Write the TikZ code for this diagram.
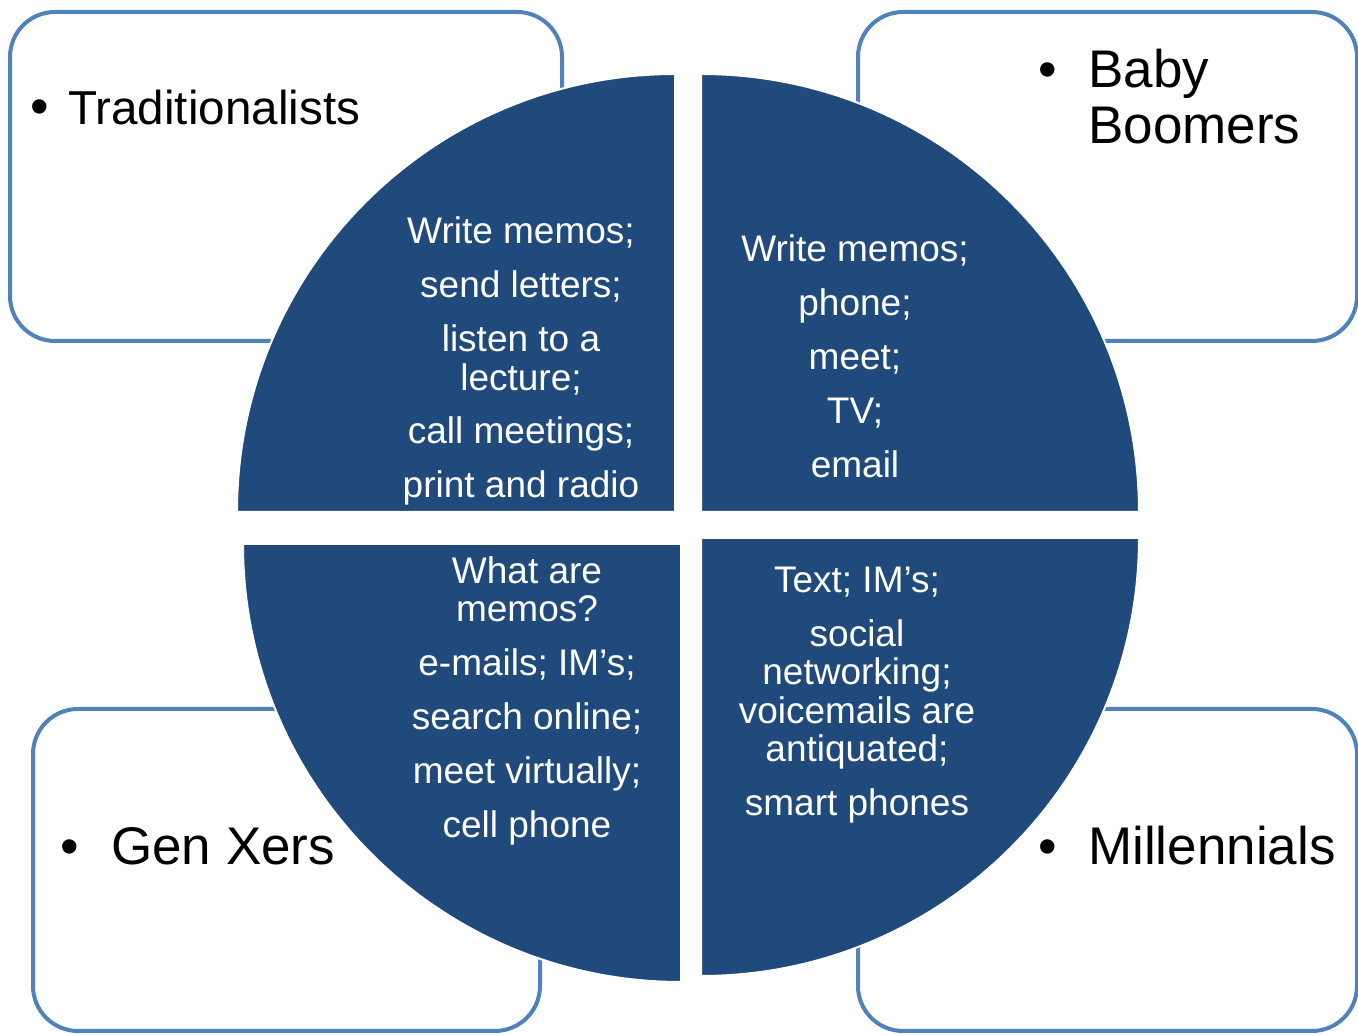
\documentclass[tikz,border=0pt]{standalone}
\usepackage{fontspec}
\setmainfont{Liberation Sans}
\definecolor{boxline}{RGB}{79,129,189}
\definecolor{piefill}{RGB}{33,74,124}
\begin{document}
\begin{tikzpicture}[x=1pt,y=1pt,
  genbox/.style={draw=boxline, line width=4pt, fill=white, rounded corners=45pt},
  quarter/.style={fill=piefill, draw=white, line width=2pt},
  gentext/.style={anchor=base west, inner sep=0pt, align=left, font=\fontsize{53}{56}\selectfont},
  bul/.style={anchor=base, inner sep=0pt, font=\fontsize{53}{56}\selectfont},
  pietext/.style={anchor=north, inner sep=0pt, align=center, text=white, font=\fontsize{37}{38.5}\selectfont}
]
\useasboundingbox (0,0) rectangle (1358,1035);

% generation boxes
\draw[genbox] (10,1023) rectangle (562,694);
\draw[genbox] (858,1023) rectangle (1357,694);
\draw[genbox] (33,326) rectangle (540,4);
\draw[genbox] (858,326) rectangle (1357,4);

% four quarters of the circle
\draw[quarter] (675,523) -- (237,523) arc[start angle=180, end angle=90, radius=438] -- cycle;
\draw[quarter] (701,523) -- (701,961) arc[start angle=90, end angle=0, radius=438] -- cycle;
\draw[quarter] (681,491) -- (243,491) arc[start angle=180, end angle=270, radius=438] -- cycle;
\draw[quarter] (701,497) -- (1139,497) arc[start angle=0, end angle=-90, radius=438] -- cycle;

% generation labels (a multi-line label sits on the baseline of its last line)
\node[bul] (b1) at (40,910) {\textbullet};
\node[gentext, font=\fontsize{47.6}{52}\selectfont] (trad) at (68,910) {Traditionalists};
\node[bul] (b2) at (1048,947) {\textbullet};
\node[gentext] (boom) at (1088,891) {Baby\\Boomers};
\node[bul] (b3) at (70,170) {\textbullet};
\node[gentext] (genx) at (111,170) {Gen Xers};
\node[bul] (b4) at (1048,170) {\textbullet};
\node[gentext] (mill) at (1088,170) {Millennials};

% communication habits
\node[pietext] (tradtxt) at (521,818.5) {Write memos;\\[15.5pt] send letters;\\[15.5pt] listen to a\\ lecture;\\[15.5pt] call meetings;\\[15.5pt] print and radio};
\node[pietext] (boomtxt) at (855,800.5) {Write memos;\\[15.5pt] phone;\\[15.5pt] meet;\\[15.5pt] TV;\\[15.5pt] email};
\node[pietext] (genxtxt) at (527,479) {What are\\ memos?\\[15.5pt] e-mails; IM’s;\\[15.5pt] search online;\\[15.5pt] meet virtually;\\[15.5pt] cell phone};
\node[pietext] (milltxt) at (857,468.5) {Text; IM’s;\\[15.5pt] social\\ networking;\\ voicemails are\\ antiquated;\\[15.5pt] smart phones};
\end{tikzpicture}
\end{document}
